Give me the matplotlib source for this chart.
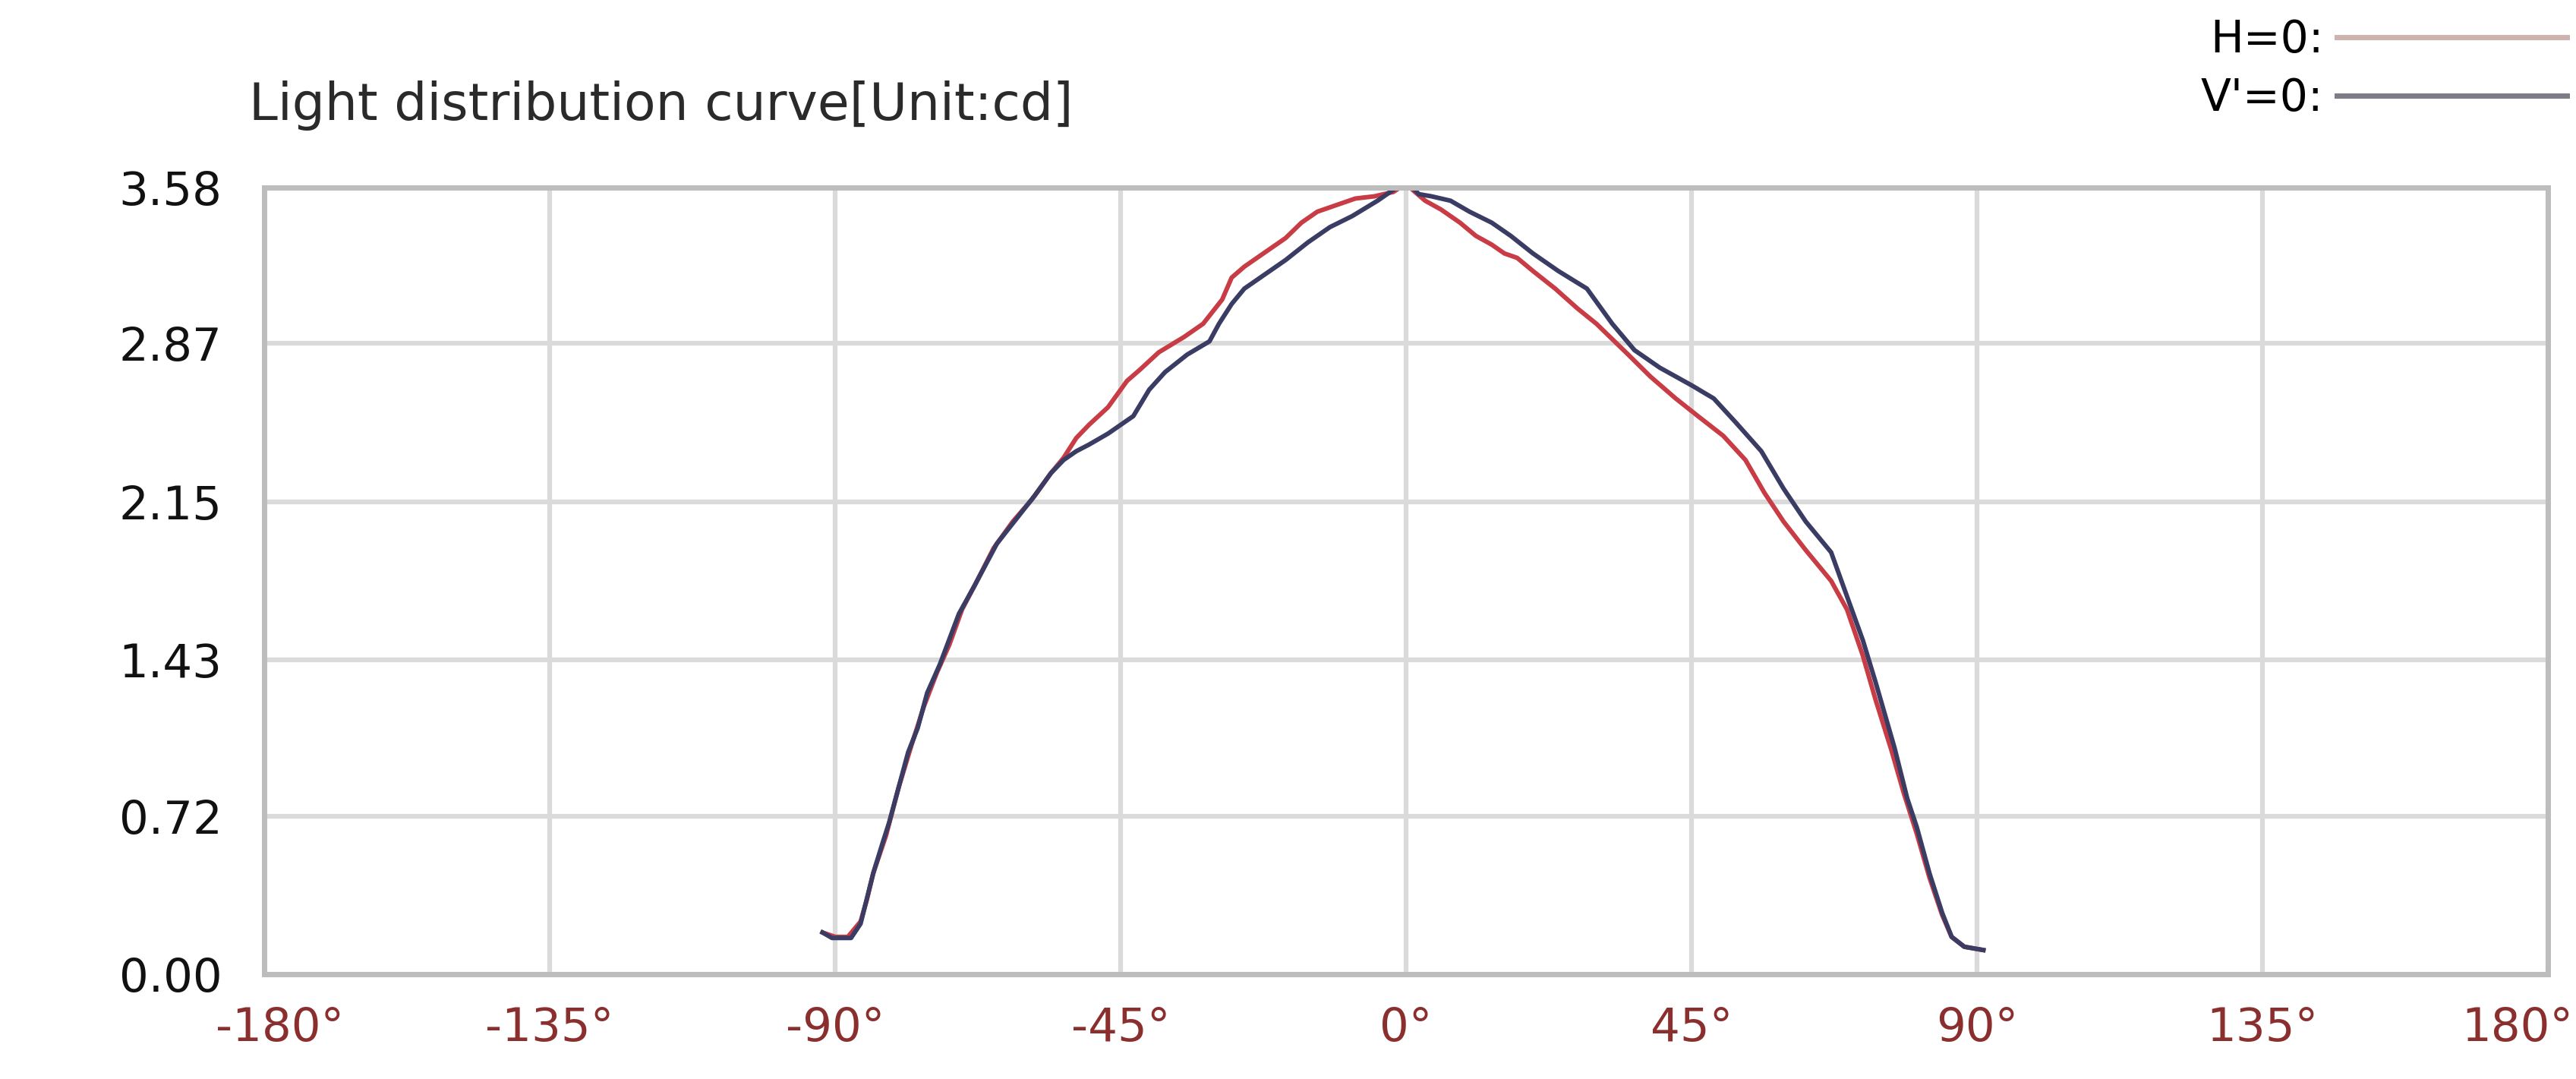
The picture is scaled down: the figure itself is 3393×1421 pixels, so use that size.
"""
Light distribution curve (H=0 / V=0 planes), cd vs angle.
"""
import matplotlib as mpl
import matplotlib.pyplot as plt
import matplotlib.transforms as mtrans
from matplotlib.lines import Line2D

# ---- data ------------------------------------------------------------
h_deg = [-92, -90, -88, -86, -85, -84, -82, -80, -78, -76, -74, -72,
         -70, -68, -65, -62, -59, -56, -54, -52, -50, -47, -44, -42,
         -39, -35, -32, -29, -27.5, -25.5, -23, -19, -16.5, -14, -11,
         -8, -5, -2, 0, 1, 3, 5.5, 8.5, 11, 13.5, 15.5, 17.5, 20, 23.5,
         27, 30, 35, 38.5, 42.5, 46, 50, 53.5, 56.5, 59.5, 63, 67, 69.5,
         72, 74, 76.5, 78.5, 80.5, 82.5, 84.5, 86, 88, 91]
h_cd = [0.19, 0.17, 0.17, 0.24, 0.34, 0.46, 0.63, 0.85, 1.04, 1.22, 1.37,
        1.50, 1.66, 1.77, 1.94, 2.06, 2.16, 2.28, 2.35, 2.44, 2.50, 2.58,
        2.70, 2.75, 2.83, 2.90, 2.96, 3.07, 3.17, 3.22, 3.27, 3.35, 3.42,
        3.47, 3.50, 3.53, 3.54, 3.56, 3.60, 3.57, 3.52, 3.48, 3.42, 3.36,
        3.32, 3.28, 3.26, 3.20, 3.12, 3.03, 2.96, 2.82, 2.72, 2.62, 2.54,
        2.45, 2.34, 2.19, 2.06, 1.93, 1.79, 1.66, 1.45, 1.25, 1.02, 0.82,
        0.64, 0.44, 0.27, 0.17, 0.125, 0.11]

v_deg = [-92, -90.5, -87.5, -86, -85, -84, -82.5, -81.5, -80, -78.5, -77,
         -75.5, -73.5, -70.5, -68, -64.5, -61.5, -58.5, -56, -54, -52,
         -50, -47, -45, -43, -40.5, -38, -34.5, -31, -29.5, -27.5, -25.5,
         -22, -19, -15.5, -12, -8.5, -4.5, -2, 0, 2, 4, 7, 10, 13.5, 16.5,
         20, 24, 28.5, 32.5, 36, 40, 45, 48.5, 52, 56, 59.5, 63, 67, 69.5,
         72, 74, 77, 79, 80.5, 82.5, 84.5, 86, 88, 91]
v_cd = [0.19, 0.165, 0.165, 0.23, 0.345, 0.46, 0.60, 0.69, 0.85, 1.01,
        1.12, 1.28, 1.41, 1.64, 1.77, 1.96, 2.07, 2.18, 2.28, 2.34, 2.38,
        2.41, 2.46, 2.50, 2.54, 2.66, 2.74, 2.82, 2.88, 2.96, 3.05, 3.12,
        3.19, 3.25, 3.33, 3.40, 3.45, 3.52, 3.57, 3.61, 3.55, 3.54, 3.52,
        3.47, 3.42, 3.36, 3.28, 3.20, 3.12, 2.96, 2.84, 2.76, 2.68, 2.62,
        2.51, 2.38, 2.21, 2.06, 1.92, 1.72, 1.52, 1.33, 1.03, 0.80, 0.67,
        0.46, 0.28, 0.17, 0.125, 0.11]

x_ticks = [-180, -135, -90, -45, 0, 45, 90, 135, 180]
y_ticks = [0.00, 0.72, 1.43, 2.15, 2.87, 3.58]
series_labels = ["H=0:", "V'=0:"]

RED = "#c83c46"
NAVY = "#3a3c64"
GRID = "#dadada"
FRAME = "#bdbdbd"

mpl.rcParams.update({
    "font.family": "DejaVu Sans",
    "font.size": 44,
})

fig = plt.figure(figsize=(33.93, 14.21), dpi=100)
ax = fig.add_axes([0.1026, 0.0971, 0.8865, 0.7291])

ax.plot(h_deg, h_cd, color=RED, lw=4.3, solid_joinstyle="round")
ax.plot(v_deg, v_cd, color=NAVY, lw=4.3, solid_joinstyle="round")

ax.set_xlim(-180, 180)
ax.set_ylim(0, 3.58)
ax.set_xticks(x_ticks)
ax.set_xticklabels([f"{t}\u00b0" for t in x_ticks], color="#8a2e2e")
ax.set_yticks(y_ticks)
ax.set_yticklabels([f"{t:.2f}" for t in y_ticks], color="#111111")
ax.tick_params(length=0, pad=40)
ax.tick_params(axis="x", pad=30)
ax.grid(True, color=GRID, lw=4.5)
ax.set_axisbelow(True)
for s in ax.spines.values():
    s.set_color(FRAME)
    s.set_linewidth(5)

# keep the end labels inside the canvas, as in the reference
xlabels = ax.get_xticklabels()
xlabels[0].set_transform(xlabels[0].get_transform()
                         + mtrans.ScaledTranslation(0.2, 0, fig.dpi_scale_trans))
xlabels[-1].set_transform(xlabels[-1].get_transform()
                          + mtrans.ScaledTranslation(-0.4, 0, fig.dpi_scale_trans))

fig.text(0.0968, 0.902, "Light distribution curve[Unit:cd]",
         fontsize=49, color="#2a2a2a", va="center", ha="left")

handles = [Line2D([], [], color="#cdb3ad", lw=5),
           Line2D([], [], color="#7d7d87", lw=5)]
fig.legend(handles, series_labels, loc="upper right",
           bbox_to_anchor=(1.012, 1.02), frameon=False, markerfirst=False,
           handlelength=5.2, handletextpad=0.3, labelspacing=0.35,
           fontsize=42)

fig.savefig("out.png", dpi=100, facecolor="white")
